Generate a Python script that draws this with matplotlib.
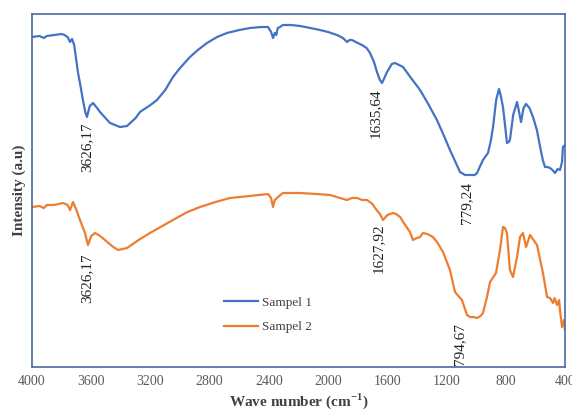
import matplotlib
matplotlib.use("Agg")
import matplotlib.pyplot as plt

# wave numbers (cm-1) and intensity (a.u.)
wn1 = [4000, 3950, 3920, 3900, 3850, 3800, 3780, 3760, 3743, 3730, 3715, 3689, 3670,
       3656, 3640, 3629, 3610, 3588, 3560, 3541, 3473, 3406, 3358, 3300, 3271, 3200,
       3156, 3100, 3048, 3000, 2933, 2880, 2818, 2750, 2683, 2600, 2528, 2450, 2406,
       2385, 2372, 2360, 2350, 2340, 2325, 2305, 2250, 2190, 2120, 2055, 2000, 1940,
       1900, 1872, 1855, 1839, 1800, 1771, 1740, 1717, 1690, 1670, 1650, 1636, 1620,
       1602, 1570, 1548, 1520, 1494, 1450, 1379, 1320, 1265, 1220, 1177, 1140, 1109,
       1075, 1042, 1010, 994, 970, 954, 930, 920, 900, 886, 865, 846, 835, 819, 805,
       792, 780, 772, 750, 724, 710, 697, 680, 663, 640, 616, 590, 568, 550, 535, 520,
       501, 485, 467, 450, 434, 420, 414, 400]
y1px = [37, 36, 38, 36, 35, 34, 35, 37, 42, 39, 45, 73, 88,
        100, 112, 117, 106, 103, 108, 112, 123, 127, 126, 118, 112, 105,
        100, 90, 77, 68, 57, 50, 43, 37, 33, 30, 28, 27, 27,
        32, 38, 33, 35, 28, 27, 25, 25, 26, 28, 30, 32, 35,
        38, 42, 40, 40, 43, 45, 48, 53, 62, 72, 80, 83, 78,
        72, 64, 63, 65, 67, 76, 90, 105, 120, 135, 150, 162, 172,
        175, 175, 175, 173, 165, 160, 155, 153, 140, 127, 100, 89, 95, 107, 125,
        143, 142, 140, 115, 102, 112, 122, 108, 104, 108, 117, 130, 147, 160, 167, 167,
        168, 170, 173, 169, 170, 162, 147, 145]
sampel1 = [400 - v for v in y1px]

wn2 = [4000, 3950, 3920, 3900, 3850, 3791, 3760, 3743, 3723, 3700, 3676, 3642, 3622,
       3600, 3574, 3540, 3507, 3460, 3419, 3358, 3280, 3203, 3120, 3048, 2950, 2865,
       2760, 2663, 2530, 2406, 2385, 2372, 2360, 2345, 2330, 2305, 2190, 2080, 1987,
       1920, 1872, 1840, 1805, 1770, 1737, 1700, 1683, 1650, 1629, 1600, 1562, 1540,
       1514, 1480, 1447, 1427, 1400, 1379, 1359, 1330, 1292, 1260, 1224, 1177, 1143,
       1120, 1096, 1062, 1042, 1020, 994, 970, 954, 927, 906, 866, 839, 819, 805, 792,
       772, 751, 724, 704, 684, 663, 636, 589, 549, 521, 501, 481, 470, 454, 440, 434,
       420, 407, 400]
y2px = [207, 206, 208, 205, 205, 203, 205, 210, 202, 210, 220, 233, 245,
        236, 233, 236, 240, 246, 250, 248, 240, 233, 226, 220, 212, 207,
        202, 198, 196, 194, 198, 207, 200, 198, 196, 193, 193, 194, 195,
        198, 200, 198, 198, 200, 200, 204, 208, 214, 220, 215, 213, 214,
        217, 225, 232, 240, 238, 237, 233, 234, 237, 243, 252, 270, 292,
        296, 300, 315, 317, 317, 318, 316, 313, 297, 282, 273, 250, 227, 228, 233,
        270, 277, 257, 237, 233, 247, 235, 245, 273, 297, 298, 303, 298, 305, 300, 310,
        327, 320, 330]
sampel2 = [400 - v for v in y2px]

# peak labels: text, wave number, top of text (a.u.)
peak_txt = ["3626,17", "1635,64", "779,24", "3626,17", "1627,92", "794,67"]
peak_wn = [3629, 1683, 1062, 3629, 1663, 1109]
peak_y = [278, 312, 218, 147, 177, 77]

blue = "#4472C4"
orange = "#ED7D31"
serif = ["Liberation Serif", "DejaVu Serif"]

fig = plt.figure(figsize=(5.72, 4.13), dpi=100)
ax = fig.add_axes([32 / 572, 46 / 413, 533 / 572, 353 / 413])

ax.plot(wn1, sampel1, color=blue, lw=1.6, label="Sampel 1")
ax.plot(wn2, sampel2, color=orange, lw=1.6, label="Sampel 2")

for t, x, y in zip(peak_txt, peak_wn, peak_y):
    ax.text(x, y, t, rotation=90, ha="center", va="top", fontsize=11,
            family=serif, color="#222222")

ax.set_xlim(4000, 400)
ax.set_ylim(33, 386)
ax.set_xticks([4000, 3600, 3200, 2800, 2400, 2000, 1600, 1200, 800, 400])
ax.set_yticks([])
ax.tick_params(axis="x", length=0, pad=6, labelsize=10, labelcolor="#595959")
for lab in ax.get_xticklabels():
    lab.set_family(serif)
for s in ax.spines.values():
    s.set_color("#4a6aa0")
    s.set_linewidth(1.2)

ax.set_xlabel("Wave number (cm$^{\\mathregular{-1}}$)", family=serif, fontsize=11,
              fontweight="bold", color="#404040", labelpad=2)
ax.set_ylabel("Intensity (a.u)", family=serif, fontsize=11, fontweight="bold",
              color="#404040", labelpad=4)

leg = ax.legend(loc="center", bbox_to_anchor=(268 / 572, 1 - 315 / 413),
                bbox_transform=fig.transFigure, frameon=False, handlelength=2.6,
                handletextpad=0.3, labelspacing=0.9, prop={"family": serif, "size": 9.5})
for t in leg.get_texts():
    t.set_color("#404040")

fig.savefig("out.png", dpi=100)
